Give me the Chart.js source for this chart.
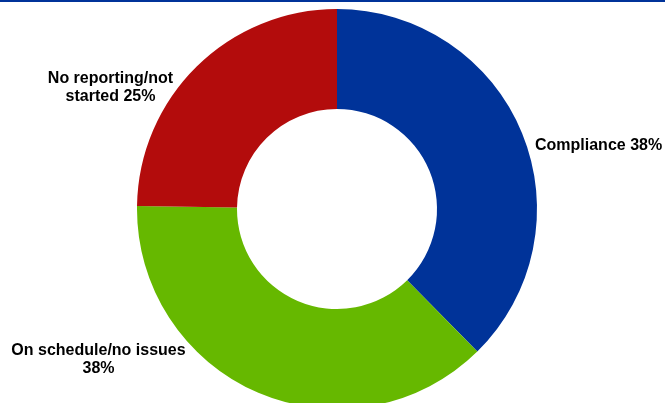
<!DOCTYPE html>
<html>
<head>
<meta charset="utf-8">
<script src="https://cdn.jsdelivr.net/npm/chart.js@4/dist/chart.umd.min.js"></script>
<style>
  html, body { margin: 0; padding: 0; background: #fff; overflow: hidden; }
  #wrap { position: absolute; left: 0; top: 0; width: 665px; height: 418px; }
</style>
</head>
<body>
<div id="wrap"><canvas id="c" width="665" height="418"></canvas></div>
<script>
// Reporting status breakdown
const categories = ['Compliance', 'On schedule/no issues', 'No reporting/not started'];
const shares = [38, 38, 25];
const labelLines = [
  ['Compliance 38%'],
  ['On schedule/no issues', '38%'],
  ['No reporting/not', 'started 25%']
];
const sliceColors = ['#003399', '#66B800', '#B30C0C'];

// Where each slice's caption sits, relative to the ring centre
const captionPlacement = [
  { dx: 198, dy: -63, align: 'left' },
  { dx: -238.5, dy: 142, align: 'center' },
  { dx: -226.5, dy: -130, align: 'center' }
];

const captionPlugin = {
  id: 'sliceCaptions',
  afterDatasetsDraw(chart) {
    const ctx = chart.ctx;
    const arcs = chart.getDatasetMeta(0).data;
    ctx.save();
    ctx.font = 'bold 16px "Liberation Sans", Arial, sans-serif';
    ctx.fillStyle = '#000';
    ctx.textBaseline = 'middle';
    arcs.forEach((arc, i) => {
      const p = captionPlacement[i];
      ctx.textAlign = p.align;
      labelLines[i].forEach((line, j) => {
        ctx.fillText(line, arc.x + p.dx, arc.y + p.dy + j * 18);
      });
    });
    // header rule
    ctx.fillStyle = '#003399';
    ctx.fillRect(0, 0, chart.width, 2);
    ctx.restore();
  }
};

new Chart(document.getElementById('c'), {
  type: 'doughnut',
  data: {
    labels: categories,
    datasets: [{
      data: shares,
      backgroundColor: sliceColors,
      borderWidth: 0,
      radius: 200,
      cutout: '50%'
    }]
  },
  options: {
    responsive: false,
    animation: false,
    devicePixelRatio: 1,
    layout: { padding: { left: 9 } },
    plugins: {
      legend: { display: false },
      tooltip: { enabled: false }
    }
  },
  plugins: [captionPlugin]
});
</script>
</body>
</html>
